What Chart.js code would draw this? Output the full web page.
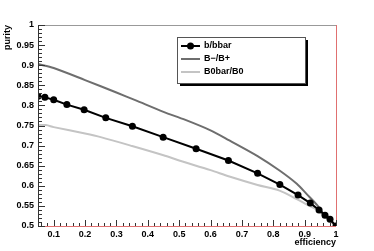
<!DOCTYPE html>
<html lang="en">
<head>
<meta charset="UTF-8">
<title>purity vs efficiency</title>
<script src="https://cdn.jsdelivr.net/npm/chart.js"></script>
<style>
    body { margin: 0; background: #fff; }
    #plot { display: block; }
</style>
</head>
<body>
<canvas id="plot" width="374" height="251"></canvas>
<script>
// b/bbar (points + line)
const bbEff = [0.05, 0.072, 0.1, 0.142, 0.197, 0.266, 0.351, 0.449, 0.554, 0.657, 0.75, 0.821, 0.879, 0.918, 0.946, 0.965, 0.981, 1.0];
const bbPur = [0.823, 0.820, 0.814, 0.802, 0.789, 0.769, 0.748, 0.721, 0.692, 0.663, 0.631, 0.603, 0.577, 0.557, 0.540, 0.527, 0.517, 0.5];

// B-/B+
const bpEff = [0.05, 0.1, 0.2, 0.3, 0.36, 0.45, 0.52, 0.6, 0.66, 0.75, 0.82, 0.875, 0.906, 0.94, 0.96, 0.98, 1.0];
const bpPur = [0.903, 0.893, 0.863, 0.832, 0.813, 0.784, 0.764, 0.738, 0.713, 0.674, 0.638, 0.605, 0.580, 0.552, 0.530, 0.514, 0.5];

// B0bar/B0
const b0Eff = [0.05, 0.075, 0.1, 0.2, 0.25, 0.35, 0.45, 0.5, 0.6, 0.66, 0.75, 0.82, 0.875, 0.906, 0.94, 0.96, 0.98, 1.0];
const b0Pur = [0.751, 0.751, 0.746, 0.730, 0.721, 0.699, 0.676, 0.663, 0.639, 0.623, 0.602, 0.588, 0.567, 0.554, 0.540, 0.526, 0.515, 0.5];

const xTickLabels = ['0.1', '0.2', '0.3', '0.4', '0.5', '0.6', '0.7', '0.8', '0.9', '1'];
const yTickLabels = ['0.5', '0.55', '0.6', '0.65', '0.7', '0.75', '0.8', '0.85', '0.9', '0.95', '1'];

const FONT = 'bold 9px "Liberation Sans", Arial, sans-serif';
const tickFont = { family: '"Liberation Sans", Arial, sans-serif', size: 9, weight: 'bold' };

const pts = (xs, ys) => xs.map((x, i) => ({ x: x, y: ys[i] }));

// ROOT style frame, inward ticks, legend box and axis titles
const rootStyle = {
    id: 'rootStyle',
    afterDraw(chart) {
        const { ctx, chartArea: a, scales: { x, y } } = chart;
        ctx.save();

        // frame
        ctx.lineWidth = 1;
        ctx.strokeStyle = '#999';
        ctx.beginPath(); ctx.moveTo(a.left, a.top + 0.5); ctx.lineTo(a.right, a.top + 0.5); ctx.stroke();
        ctx.strokeStyle = '#e07070';
        ctx.beginPath(); ctx.moveTo(a.right + 0.5, a.top); ctx.lineTo(a.right + 0.5, a.bottom); ctx.stroke();
        ctx.beginPath(); ctx.moveTo(a.left, a.bottom + 0.5); ctx.lineTo(a.right, a.bottom + 0.5); ctx.stroke();
        ctx.strokeStyle = '#333';
        ctx.beginPath(); ctx.moveTo(a.left + 0.5, a.top); ctx.lineTo(a.left + 0.5, a.bottom + 1); ctx.stroke();

        // inward ticks
        ctx.strokeStyle = '#333';
        ctx.beginPath();
        for (let i = 3; i <= 50; i++) {
            const v = i / 50;
            const px = Math.round(x.getPixelForValue(v)) + 0.5;
            const len = (i % 5 === 0) ? 6 : 3;
            ctx.moveTo(px, a.bottom); ctx.lineTo(px, a.bottom - len);
        }
        for (let i = 50; i <= 100; i++) {
            const v = i / 100;
            const py = Math.round(y.getPixelForValue(v)) + 0.5;
            const len = (i % 5 === 0) ? 7 : 4;
            ctx.moveTo(a.left, py); ctx.lineTo(a.left + len, py);
        }
        ctx.stroke();

        // axis titles
        ctx.fillStyle = '#000';
        ctx.font = FONT;
        ctx.textAlign = 'right';
        ctx.textBaseline = 'alphabetic';
        ctx.fillText('efficiency', a.right, 245);
        ctx.save();
        ctx.translate(10, a.top);
        ctx.rotate(-Math.PI / 2);
        ctx.fillText('purity', 0, 0);
        ctx.restore();

        // legend
        const lx = 177, ly = 37, lw = 128, lh = 46;
        ctx.fillStyle = '#000';
        ctx.fillRect(lx + 3, ly + 3, lw, lh);
        ctx.fillStyle = '#fff';
        ctx.fillRect(lx, ly, lw, lh);
        ctx.strokeStyle = '#555';
        ctx.strokeRect(lx + 0.5, ly + 0.5, lw, lh);
        chart.data.datasets.forEach((ds, i) => {
            const ry = ly + 9 + i * 13;
            ctx.strokeStyle = ds.borderColor;
            ctx.lineWidth = ds.borderWidth;
            ctx.beginPath(); ctx.moveTo(lx + 4, ry); ctx.lineTo(lx + 23, ry); ctx.stroke();
            if (ds.pointRadius > 0) {
                ctx.fillStyle = ds.pointBackgroundColor;
                ctx.beginPath(); ctx.arc(lx + 13.5, ry, ds.pointRadius, 0, Math.PI * 2); ctx.fill();
            }
            ctx.fillStyle = '#000';
            ctx.font = FONT;
            ctx.textAlign = 'left';
            ctx.textBaseline = 'middle';
            ctx.fillText(ds.label, lx + 27, ry);
        });
        ctx.restore();
    }
};

new Chart(document.getElementById('plot'), {
    type: 'scatter',
    data: {
        datasets: [{
            label: 'b/bbar',
            data: pts(bbEff, bbPur),
            showLine: true,
            borderColor: '#000',
            borderWidth: 2,
            pointRadius: 3.5,
            pointBackgroundColor: '#000',
            pointBorderWidth: 0,
            tension: 0
        }, {
            label: 'B\u2212/B+',
            data: pts(bpEff, bpPur),
            showLine: true,
            borderColor: '#6e6e6e',
            borderWidth: 2,
            pointRadius: 0,
            tension: 0.3
        }, {
            label: 'B0bar/B0',
            data: pts(b0Eff, b0Pur),
            showLine: true,
            borderColor: '#c4c4c4',
            borderWidth: 2,
            pointRadius: 0,
            tension: 0.3
        }]
    },
    options: {
        responsive: false,
        animation: false,
        layout: { padding: { top: 25, right: 38, left: 0, bottom: 0 } },
        plugins: { legend: { display: false }, tooltip: { enabled: false } },
        scales: {
            x: {
                type: 'linear',
                min: 0.05,
                max: 1,
                afterFit: s => { s.height = 25; },
                afterBuildTicks: s => { s.ticks = xTickLabels.map(t => ({ value: parseFloat(t) })); },
                grid: { display: false, drawTicks: false },
                border: { display: false },
                ticks: {
                    padding: 3,
                    color: '#000',
                    font: tickFont,
                    maxRotation: 0,
                    autoSkip: false,
                    callback: v => xTickLabels.find(t => Math.abs(parseFloat(t) - v) < 1e-6) || ''
                }
            },
            y: {
                type: 'linear',
                min: 0.5,
                max: 1,
                afterFit: s => { s.width = 38; },
                afterBuildTicks: s => { s.ticks = yTickLabels.map(t => ({ value: parseFloat(t) })); },
                grid: { display: false, drawTicks: false },
                border: { display: false },
                ticks: {
                    padding: 4,
                    color: '#000',
                    font: tickFont,
                    autoSkip: false,
                    callback: v => yTickLabels.find(t => Math.abs(parseFloat(t) - v) < 1e-6) || ''
                }
            }
        }
    },
    plugins: [rootStyle]
});
</script>
</body>
</html>
